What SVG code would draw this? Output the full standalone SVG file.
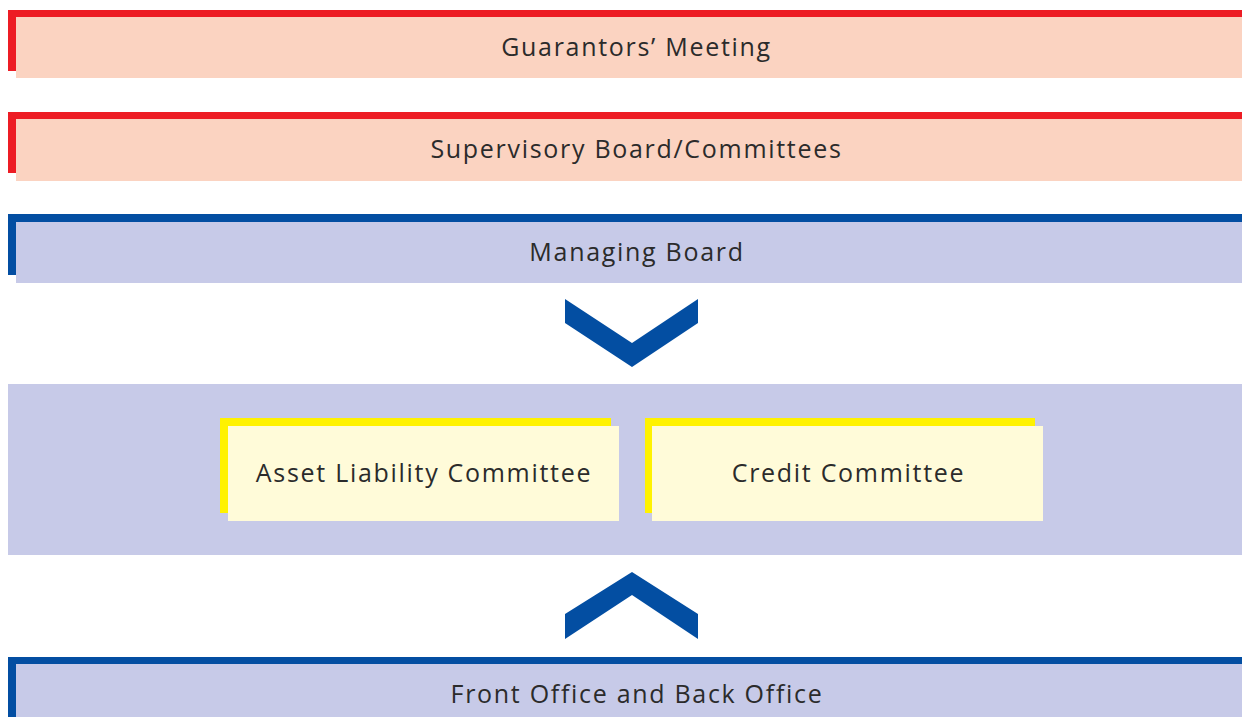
<svg xmlns="http://www.w3.org/2000/svg" width="1242" height="717" viewBox="0 0 1242 717">
<style>
.t{font-family:"Open Sans","Noto Sans","Liberation Sans",sans-serif;font-size:25px;letter-spacing:1.7px;fill:#2b2b2b;text-anchor:middle}
.red{fill:#ED1C24}.pink{fill:#FBD3C1}.blue{fill:#034EA2}.lav{fill:#C7CAE8}.yel{fill:#FFF200}.cream{fill:#FFFBD9}
</style>
<rect width="1242" height="717" fill="#ffffff"/>
<g id="guarantors">
<rect class="red" x="8" y="10" width="1234" height="7"/>
<rect class="red" x="8" y="10" width="8" height="61"/>
<rect class="pink" x="16" y="17" width="1226" height="61"/>
<text class="t" x="636.5" y="56">Guarantors’ Meeting</text>
</g>
<g id="supervisory">
<rect class="red" x="8" y="112" width="1234" height="7"/>
<rect class="red" x="8" y="112" width="8" height="61"/>
<rect class="pink" x="16" y="119" width="1226" height="62"/>
<text class="t" x="636.5" y="158">Supervisory Board/Committees</text>
</g>
<g id="managing">
<rect class="blue" x="8" y="214" width="1234" height="8"/>
<rect class="blue" x="8" y="214" width="8" height="61"/>
<rect class="lav" x="16" y="222" width="1226" height="61"/>
<text class="t" x="637" y="261">Managing Board</text>
</g>
<g id="connectors">
<polygon class="blue" points="565,299 632,343 698,299 698,323 632,367 565,323"/>
<polygon class="blue" points="565,614 632,572 698,614 698,639 632,595 565,639"/>
</g>
<g id="committees">
<rect class="lav" x="8" y="384" width="1234" height="171"/>
</g>
<g id="alco">
<rect class="yel" x="220" y="418" width="391" height="95"/>
<rect class="cream" x="228" y="426" width="391" height="95"/>
<text class="t" x="424" y="482">Asset Liability Committee</text>
</g>
<g id="credit">
<rect class="yel" x="645" y="418" width="390" height="95"/>
<rect class="cream" x="652" y="426" width="391" height="95"/>
<text class="t" x="848.5" y="482">Credit Committee</text>
</g>
<g id="front">
<rect class="blue" x="8" y="657" width="1234" height="7"/>
<rect class="blue" x="8" y="657" width="8" height="60"/>
<rect class="lav" x="16" y="664" width="1226" height="53"/>
<text class="t" x="637" y="703">Front Office and Back Office</text>
</g>
</svg>
